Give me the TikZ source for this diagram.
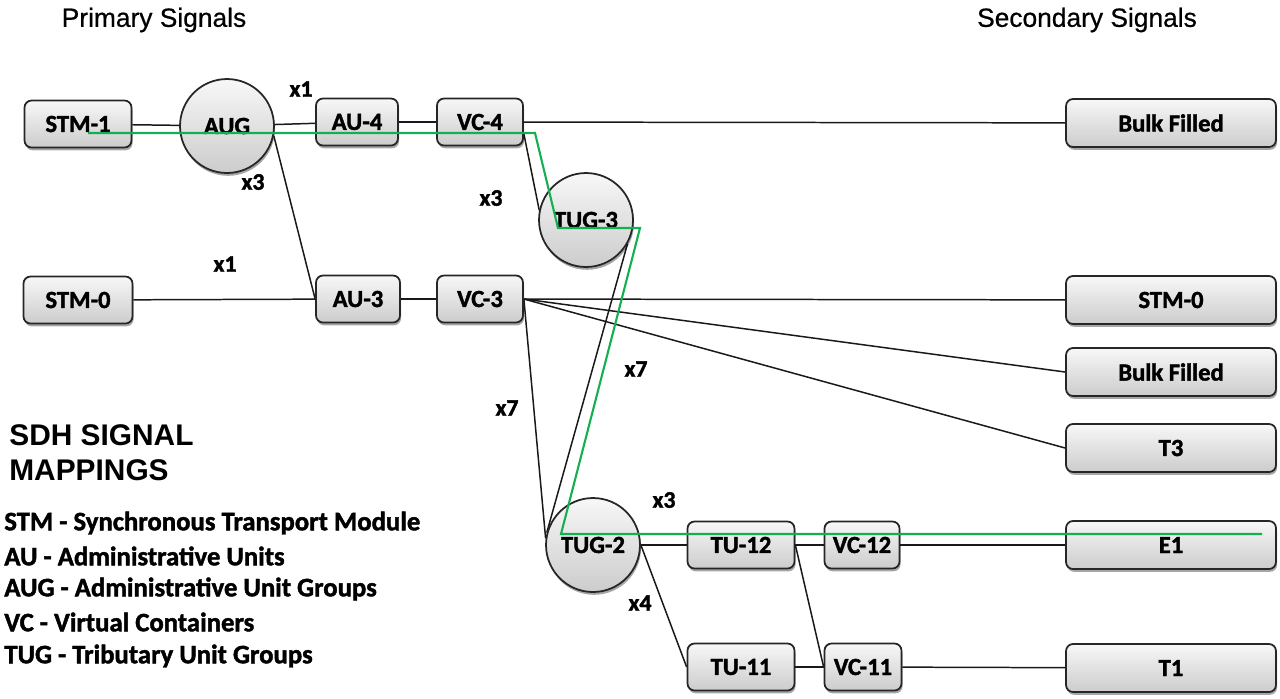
\documentclass[tikz,border=0pt]{standalone}
\usepackage{fontspec}
\setmainfont{Carlito}
\newfontfamily\heavyfont{Carlito}[BoldFeatures={FakeBold=1.6}]
\newfontfamily\arialf{Liberation Sans}[FakeBold=0.6]
\newfontfamily\arialb{Liberation Sans}
\usetikzlibrary{shadows,backgrounds}
\definecolor{pathgreen}{RGB}{20,176,80}
\begin{document}
\begin{tikzpicture}[x=0.02cm,y=-0.02cm,
  shade common/.style={draw=black!85, line width=1pt, top color=gray!6, bottom color=gray!40,
    drop shadow={shadow xshift=0.6pt, shadow yshift=-1.6pt, opacity=0.35, fill=black},
    font=\heavyfont\bfseries\fontsize{14}{16}\selectfont, inner sep=0pt},
  box/.style={shade common, rounded corners=4pt, minimum height=0.94cm},
  rbox/.style={box, minimum width=4.2cm, minimum height=0.96cm},
  circ/.style={shade common, circle, minimum size=1.88cm},
  conn/.style={draw=black!90, line width=0.85pt},
  hl/.style={draw=pathgreen, line width=1.2pt},
  xlab/.style={font=\heavyfont\bfseries\fontsize{13.5}{15}\selectfont, inner sep=0pt},
  title/.style={font=\arialf\fontsize{15}{17}\selectfont, inner sep=0pt},
  head/.style={font=\arialb\bfseries\fontsize{17}{19}\selectfont, inner sep=0pt, anchor=west},
  legend/.style={font=\heavyfont\bfseries\fontsize{15.2}{17}\selectfont, inner sep=0pt, anchor=west}]
\useasboundingbox (0,0) rectangle (1280,698);

% titles
\node[title] (prim) at (154,20) {Primary Signals};
\node[title] (sec) at (1087,20) {Secondary Signals};

% nodes
\node[box, minimum width=2.14cm] (stm1) at (78,124) {STM-1};
\node[circ] (aug) at (227,126) {AUG};
\node[box, minimum width=1.64cm] (au4) at (357,122) {AU-4};
\node[box, minimum width=1.72cm] (vc4) at (480,122) {VC-4};
\node[rbox] (bulk1) at (1171,123) {Bulk Filled};
\node[circ] (tug3) at (586,220) {TUG-3};
\node[box, minimum width=2.18cm] (stm0l) at (78,300) {STM-0};
\node[box, minimum width=1.68cm] (au3) at (358,299) {AU-3};
\node[box, minimum width=1.72cm] (vc3) at (480,299) {VC-3};
\node[rbox] (stm0r) at (1171,300) {STM-0};
\node[rbox] (bulk2) at (1171,372) {Bulk Filled};
\node[rbox] (t3) at (1171,448) {T3};
\node[circ] (tug2) at (593,545) {TUG-2};
\node[box, minimum width=2.14cm] (tu12) at (741,545) {TU-12};
\node[box, minimum width=1.5cm] (vc12) at (862,545) {VC-12};
\node[rbox] (e1) at (1171,545) {E1};
\node[box, minimum width=2.14cm] (tu11) at (741,667) {TU-11};
\node[box, minimum width=1.54cm] (vc11) at (863,667) {VC-11};
\node[rbox] (t1) at (1171,668) {T1};

% connectors
\begin{pgfonlayer}{background}
\draw[conn] (stm1) -- (aug);
\draw[conn] (aug) -- (au4);
\draw[conn] (au4) -- (vc4);
\draw[conn] (vc4) -- (bulk1);
\draw[conn] (aug.-12) -- (au3.west);
\draw[conn] (vc4.-15) -- (tug3.168);
\draw[conn] (tug3.-30) -- (tug2.165);
\draw[conn] (stm0l) -- (au3);
\draw[conn] (au3) -- (vc3);
\draw[conn] (vc3) -- (stm0r);
\draw[conn] (vc3.east) -- (bulk2.west);
\draw[conn] (vc3.east) -- (t3.west);
\draw[conn] (vc3.east) -- (tug2.172);
\draw[conn] (tug2) -- (tu12);
\draw[conn] (tu12) -- (vc12);
\draw[conn] (vc12) -- (e1);
\draw[conn] (tug2.east) -- (tu11.west);
\draw[conn] (tu12.east) -- (vc11.west);
\draw[conn] (tu11) -- (vc11);
\draw[conn] (vc11) -- (t1);
\end{pgfonlayer}

% highlighted path
\coordinate (g1) at (88,133);
\coordinate (g2) at (535,133);
\coordinate (g3) at (558,228);
\coordinate (g4) at (640,228);
\coordinate (g5) at (561,534);
\coordinate (g6) at (1262,534);
\draw[hl] (g1) -- (g2) -- (g3) -- (g4) -- (g5) -- (g6);

% multiplicity labels
\node[xlab] (l1) at (301,89) {x1};
\node[xlab] (l2) at (253,182) {x3};
\node[xlab] (l3) at (491,198) {x3};
\node[xlab] (l4) at (225,264) {x1};
\node[xlab] (l5) at (636,369) {x7};
\node[xlab] (l6) at (507,408) {x7};
\node[xlab] (l7) at (664,500) {x3};
\node[xlab] (l8) at (640,603) {x4};

% heading and legend
\node[head] (h1) at (9,435) {SDH SIGNAL};
\node[head] (h2) at (9,470) {MAPPINGS};
\node[legend] (lg1) at (4,523) {STM - Synchronous Transport Module};
\node[legend] (lg2) at (4,556) {AU - Administrative Units};
\node[legend] (lg3) at (4,589) {AUG - Administrative Unit Groups};
\node[legend] (lg4) at (4,622) {VC - Virtual Containers};
\node[legend] (lg5) at (4,656) {TUG - Tributary Unit Groups};
\end{tikzpicture}
\end{document}
